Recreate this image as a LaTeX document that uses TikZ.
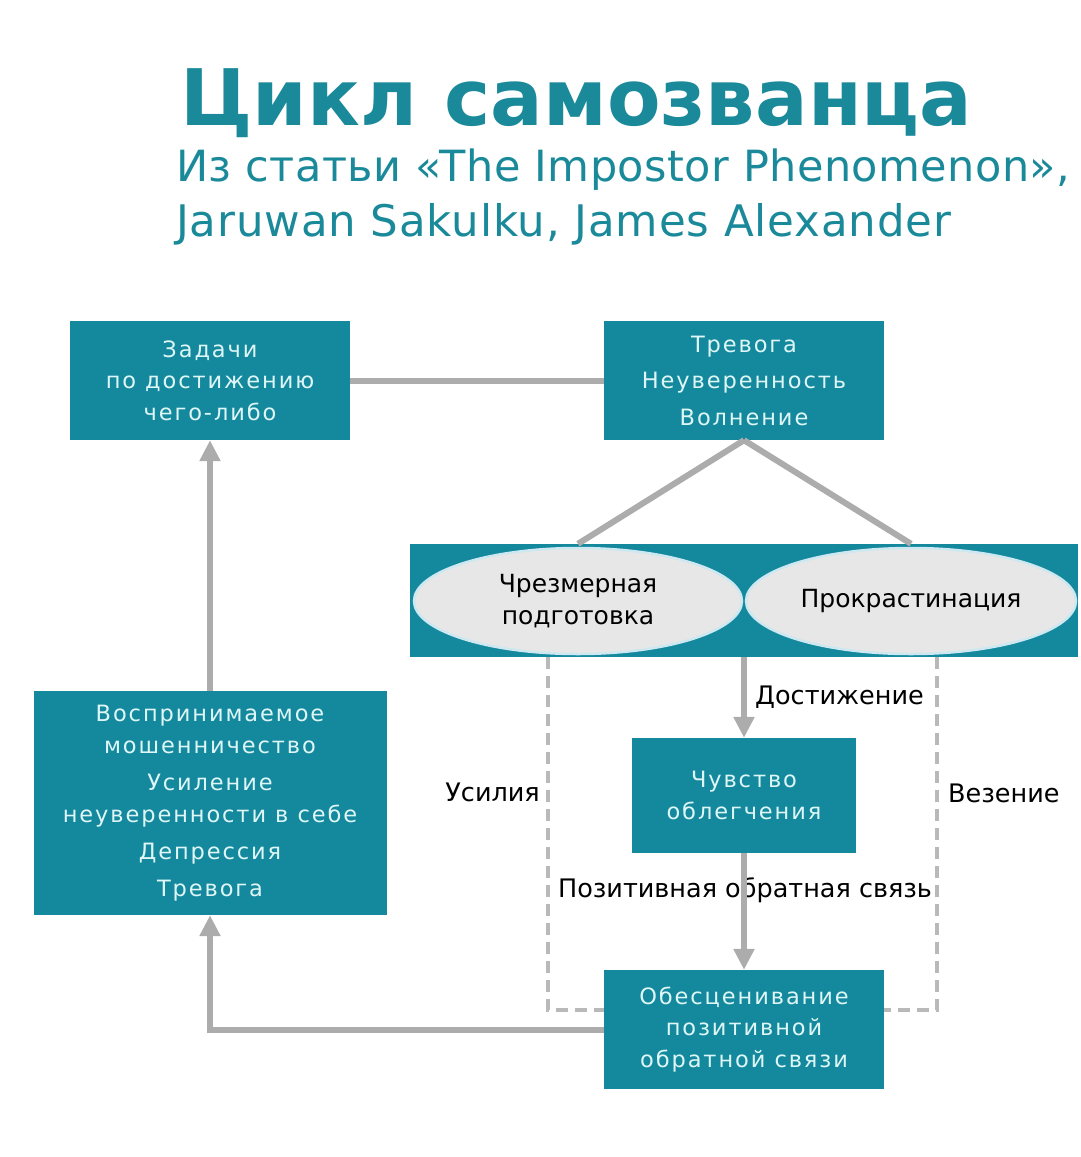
\documentclass[tikz,border=0pt]{standalone}
\usepackage{fontspec}
\setmainfont{DejaVu Sans}
\newfontfamily\boxfont[LetterSpace=8.5]{DejaVu Sans}
\newfontfamily\subfonta[LetterSpace=1.0]{DejaVu Sans}
\newfontfamily\subfontb[LetterSpace=2.0]{DejaVu Sans}
\usetikzlibrary{arrows.meta,shapes.geometric}
\definecolor{teal1}{RGB}{20,137,158}
\definecolor{titlec}{RGB}{26,138,154}
\definecolor{boxtext}{RGB}{222,246,246}
\definecolor{conn}{RGB}{172,172,172}
\definecolor{dashc}{RGB}{185,185,185}
\definecolor{ellfill}{RGB}{231,231,231}
\definecolor{ellline}{RGB}{205,232,240}
\tikzset{
  tbox/.style={rectangle, fill=teal1, text=boxtext, align=center, inner sep=0pt,
    font=\boxfont\fontsize{22.5}{31.5}\selectfont},
  oval/.style={ellipse, fill=ellfill, draw=ellline, line width=2.5pt, align=center, inner sep=0pt,
    font=\fontsize{25}{32}\selectfont},
  cline/.style={draw=conn, line width=6pt},
  carrow/.style={draw=conn, line width=6pt, -{Triangle[width=20pt,length=21pt]}},
  dline/.style={draw=dashc, line width=3.5pt, dash pattern=on 12pt off 7pt},
  lbl/.style={font=\fontsize{25.5}{28}\selectfont, text=black, inner sep=0pt},
}
\begin{document}
\begin{tikzpicture}[x=1pt,y=-1pt]
\useasboundingbox[fill=white] (0,0) rectangle (1080,1157);
% title
\node[anchor=base west, inner sep=0pt, text=titlec, font=\fontsize{78}{78}\bfseries\selectfont] (title) at (180,125) {Цикл самозванца};
\node[anchor=base west, inner sep=0pt, text=titlec, font=\subfonta\fontsize{43}{43}\selectfont] (sub1) at (176,181) {Из статьи «The Impostor Phenomenon»,};
\node[anchor=base west, inner sep=0pt, text=titlec, font=\subfontb\fontsize{43.5}{43.5}\selectfont] (sub2) at (176,236) {Jaruwan Sakulku, James Alexander};
% boxes
\node[tbox, minimum width=280pt, minimum height=119pt] (A) at (210,380.5) {Задачи\\по достижению\\чего-либо};
\node[tbox, minimum width=280pt, minimum height=119pt] (B) at (744,380.5) {Тревога\\[5pt]Неуверенность\\[5pt]Волнение};
\node[rectangle, fill=teal1, minimum width=668pt, minimum height=113pt, inner sep=0pt] (band) at (744,600.5) {};
\node[oval, minimum width=328pt, minimum height=106pt] (E1) at (578,601) {Чрезмерная\\подготовка};
\node[oval, minimum width=330pt, minimum height=106pt] (E2) at (911,601) {Прокрастинация};
\node[tbox, minimum width=224pt, minimum height=115pt] (C) at (744,795.5) {Чувство\\облегчения};
\node[tbox, minimum width=280pt, minimum height=119pt] (E) at (744,1029.5) {Обесценивание\\позитивной\\обратной связи};
\node[tbox, minimum width=353pt, minimum height=224pt] (D) at (210,803) {Воспринимаемое\\мошенничество\\[6pt]Усиление\\неуверенности в себе\\[6pt]Депрессия\\[5pt]Тревога};
% labels
\node[lbl, anchor=west] (ldost) at (755,697) {Достижение};
\node[lbl, anchor=east] (lus) at (540,792) {Усилия};
\node[lbl, anchor=west] (lvez) at (948,793) {Везение};
\node[lbl] (lpos) at (745,890) {Позитивная обратная связь};
% connectors
\draw[cline] (A.east) -- (B.west);
\draw[cline] (B.south) -- (E1 |- band.north);
\draw[cline] (B.south) -- (E2 |- band.north);
\draw[carrow] (band.south) -- (C.north);
\draw[carrow] (C.south) -- (E.north);
\draw[carrow] (E.west) -| (D.south);
\draw[carrow] (D.north) -- (A.south);
\draw[dline] ([xshift=-196pt]band.south) |- ([yshift=19.5pt]E.west);
\draw[dline] ([xshift=193pt]band.south) |- ([yshift=19.5pt]E.east);
\end{tikzpicture}
\end{document}
